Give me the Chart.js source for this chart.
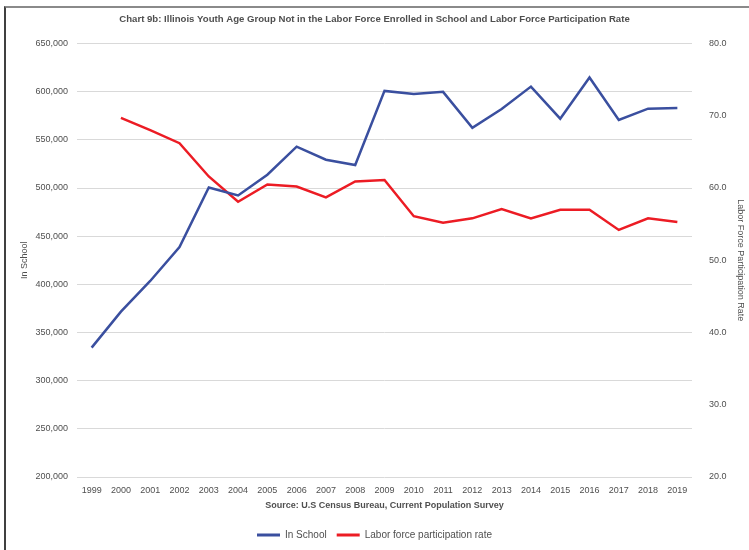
<!DOCTYPE html>
<html>
<head>
<meta charset="utf-8">
<script src="https://cdn.jsdelivr.net/npm/chart.js@4.4.0/dist/chart.umd.min.js"></script>
<style>
  body { margin: 0; background: #fff; }
  #wrap { position: relative; width: 749px; height: 550px; }
  #frame {
    position: absolute; left: 4px; top: 6px; right: 0; bottom: 0;
    border-left: 2px solid #404040; border-top: 2px solid #8a8a8a;
    pointer-events: none;
  }
</style>
</head>
<body>
<div id="wrap">
  <canvas id="chart" width="749" height="550"></canvas>
  <div id="frame"></div>
</div>
<script>
const years = ['1999','2000','2001','2002','2003','2004','2005','2006','2007','2008','2009',
    '2010','2011','2012','2013','2014','2015','2016','2017','2018','2019'];

const inSchool = [334300, 371700, 403500, 438700, 500600, 492300, 513800, 542900, 529400, 523900, 600800,
    597700, 599800, 562400, 582100, 605300, 572000, 614700, 570700, 582400, 583100];

const lfpRate = [null, 69.7, 68.0, 66.2, 61.6, 58.1, 60.5, 60.2, 58.7, 60.9, 61.1,
    56.1, 55.2, 55.8, 57.1, 55.8, 57.0, 57.0, 54.2, 55.8, 55.3];

const blue = '#3a4f9f';
const red = '#ec1c24';
const grey = '#4f4f4f';
const font = 'Liberation Sans, Arial, sans-serif';

Chart.defaults.font.family = font;
Chart.defaults.color = grey;

new Chart(document.getElementById('chart'), {
    type: 'line',
    data: {
        labels: years,
        datasets: [
            { label: 'In School', data: inSchool, yAxisID: 'y',
              borderColor: blue, backgroundColor: blue, borderWidth: 2.5, pointRadius: 0, tension: 0 },
            { label: 'Labor force participation rate', data: lfpRate, yAxisID: 'y1',
              borderColor: red, backgroundColor: red, borderWidth: 2.5, pointRadius: 0, tension: 0 }
        ]
    },
    options: {
        responsive: false,
        animation: false,
        layout: { padding: 0 },
        plugins: {
            title: {
                display: true,
                text: 'Chart 9b: Illinois Youth Age Group Not in the Labor Force Enrolled in School and Labor Force Participation Rate',
                font: { size: 9.6, weight: 'bold' },
                color: grey,
                padding: { top: 14, bottom: 18 }
            },
            legend: {
                position: 'bottom',
                labels: {
                    boxWidth: 23,
                    boxHeight: 3,
                    font: { size: 10 },
                    color: grey,
                    padding: 10,
                    generateLabels: chart =>
                        Chart.defaults.plugins.legend.labels.generateLabels(chart).map(l => ({ ...l, lineWidth: 0 }))
                }
            },
            tooltip: { enabled: false }
        },
        scales: {
            x: {
                offset: true,
                grid: { display: false, drawTicks: false },
                border: { display: false },
                ticks: { font: { size: 9 }, padding: 8, maxRotation: 0, autoSkip: false },
                title: {
                    display: true,
                    text: 'Source: U.S Census Bureau, Current Population Survey',
                    font: { size: 9, weight: 'bold' },
                    padding: { top: 4, bottom: 9 }
                },
                afterFit: s => { s.height = 43; }
            },
            y: {
                position: 'left',
                min: 200000,
                max: 650000,
                grid: { color: '#d9d9d9', drawTicks: false },
                border: { display: false },
                ticks: {
                    stepSize: 50000,
                    font: { size: 9 },
                    padding: 9,
                    callback: v => v.toLocaleString('en-US')
                },
                title: { display: true, text: 'In School', font: { size: 9 }, padding: { top: 19, bottom: 0 } },
                afterFit: s => { s.width = 77; }
            },
            y1: {
                position: 'right',
                min: 20,
                max: 80,
                grid: { display: false, drawTicks: false },
                border: { display: false },
                ticks: {
                    stepSize: 10,
                    font: { size: 9 },
                    padding: 17,
                    callback: v => v.toFixed(1)
                },
                title: { display: true, text: 'Labor Force Participation Rate', font: { size: 9 }, padding: { top: 3, bottom: 0 } },
                afterFit: s => { s.width = 57; }
            }
        }
    }
});
</script>
</body>
</html>
